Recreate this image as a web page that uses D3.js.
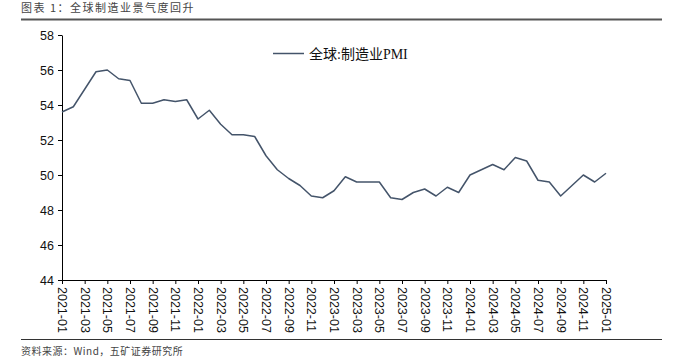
<!DOCTYPE html>
<html><head><meta charset="utf-8">
<script src="https://cdn.jsdelivr.net/npm/d3@7"></script>
<style>
html,body{margin:0;padding:0;background:#fff;}
svg{display:block;}
</style></head>
<body>
<svg id="chart" width="677" height="363"></svg>
<script>
const months = [
 "2021-01","2021-02","2021-03","2021-04","2021-05","2021-06","2021-07","2021-08","2021-09","2021-10","2021-11","2021-12",
 "2022-01","2022-02","2022-03","2022-04","2022-05","2022-06","2022-07","2022-08","2022-09","2022-10","2022-11","2022-12",
 "2023-01","2023-02","2023-03","2023-04","2023-05","2023-06","2023-07","2023-08","2023-09","2023-10","2023-11","2023-12",
 "2024-01","2024-02","2024-03","2024-04","2024-05","2024-06","2024-07","2024-08","2024-09","2024-10","2024-11","2024-12",
 "2025-01"];
const pmi = [
 53.6,53.9,54.9,55.9,56.0,55.5,55.4,54.1,54.1,54.3,54.2,54.3,
 53.2,53.7,52.9,52.3,52.3,52.2,51.1,50.3,49.8,49.4,48.8,48.7,
 49.1,49.9,49.6,49.6,49.6,48.7,48.6,49.0,49.2,48.8,49.3,49.0,
 50.0,50.3,50.6,50.3,51.0,50.8,49.7,49.6,48.8,49.4,50.0,49.6,
 50.1];
const yTicks = [44,46,48,50,52,54,56,58];
const seriesName = "全球:制造业PMI";
const titleText = "图表 1：全球制造业景气度回升";
const sourceText = "资料来源：Wind，五矿证券研究所";

const svg = d3.select("#chart");
const mLeft = 62, mRight = 606, mTop = 35, mBottom = 280;
const lineColor = "#44546A";

const x = d3.scalePoint().domain(months).range([mLeft, mRight]);
const y = d3.scaleLinear().domain([44, 58]).range([mBottom, mTop]);

// title
svg.append("text").attr("x", 21).attr("y", 12)
  .attr("font-family", "'Noto Sans CJK SC', sans-serif")
  .attr("font-size", 11).attr("letter-spacing", "1.5px")
  .attr("fill", "#444").text(titleText);
svg.append("line").attr("x1", 21).attr("x2", 662).attr("y1", 19.5).attr("y2", 19.5)
  .attr("stroke", "#555").attr("stroke-width", 2);

// y axis
const yAxis = svg.append("g").attr("transform", `translate(${mLeft},0)`)
  .call(d3.axisLeft(y).tickValues(yTicks).tickSize(4).tickSizeOuter(0).tickPadding(4));
yAxis.selectAll("text").attr("font-family", "'Liberation Sans', Arial, sans-serif")
  .attr("font-size", 12.5).attr("fill", "#111");
yAxis.selectAll("line,path").attr("stroke", "#000");

// x axis
const xTickVals = months.filter((d, i) => i % 2 === 0);
const xAxis = svg.append("g").attr("transform", `translate(0,${mBottom})`)
  .call(d3.axisBottom(x).tickValues(xTickVals).tickSize(4).tickSizeOuter(0));
xAxis.select("path").attr("d", `M${mLeft},0.5H${mRight}`);
xAxis.selectAll("line,path").attr("stroke", "#000");
xAxis.selectAll("text")
  .attr("font-family", "'Liberation Sans', Arial, sans-serif")
  .attr("font-size", 12.5).attr("fill", "#111")
  .attr("text-anchor", "start")
  .attr("transform", "translate(0,5) rotate(90)")
  .attr("x", 2).attr("y", 0).attr("dy", "0.35em");

// line
const line = d3.line().x((d, i) => x(months[i])).y(d => y(d));
svg.append("path").datum(pmi).attr("d", line)
  .attr("fill", "none").attr("stroke", lineColor).attr("stroke-width", 1.5)
  .attr("stroke-linejoin", "round");

// legend
svg.append("line").attr("x1", 273).attr("x2", 304).attr("y1", 53.5).attr("y2", 53.5)
  .attr("stroke", lineColor).attr("stroke-width", 1.5);
svg.append("text").attr("x", 309).attr("y", 58.5)
  .attr("font-family", "'Liberation Serif', 'Noto Sans CJK SC', serif")
  .attr("font-size", 14).attr("fill", "#111").text(seriesName);

// source
svg.append("line").attr("x1", 21).attr("x2", 662).attr("y1", 339.5).attr("y2", 339.5)
  .attr("stroke", "#333").attr("stroke-width", 1);
svg.append("text").attr("x", 21).attr("y", 355)
  .attr("font-family", "'Noto Sans CJK SC', sans-serif")
  .attr("font-size", 10).attr("letter-spacing", "0.5px")
  .attr("fill", "#444").text(sourceText);
</script>
</body></html>
